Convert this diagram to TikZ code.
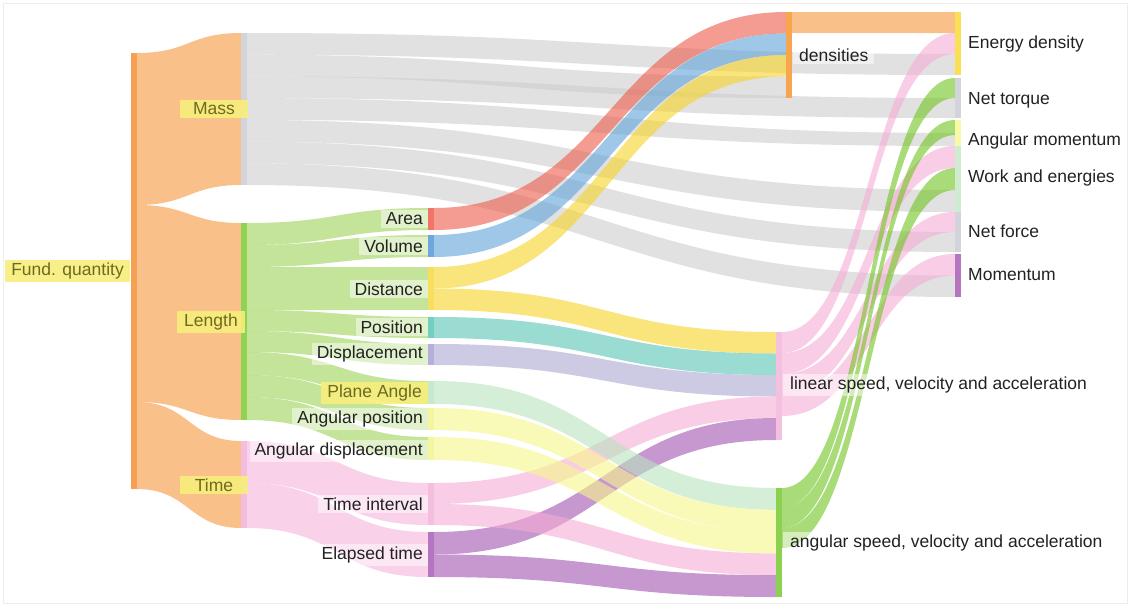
\documentclass[tikz,border=0pt]{standalone}
\usepackage{fontspec}
\setmainfont{Liberation Sans}
\usetikzlibrary{calc}
\pgfdeclarelayer{back}
\pgfdeclarelayer{links}
\pgfsetlayers{back,links,main}
% bar colours
\definecolor{cfund}{HTML}{F5A052}
\definecolor{cmass}{HTML}{D3D3DB}
\definecolor{clen}{HTML}{8ED453}
\definecolor{ctime}{HTML}{F4BCDF}
\definecolor{carea}{HTML}{F07468}
\definecolor{cvol}{HTML}{6DA7DB}
\definecolor{cdist}{HTML}{F8DE5E}
\definecolor{cpos}{HTML}{72D0C2}
\definecolor{cdisp}{HTML}{B5AFDB}
\definecolor{cplane}{HTML}{C7E9CB}
\definecolor{cang}{HTML}{F5F5A0}
\definecolor{ctint}{HTML}{F4BEDF}
\definecolor{celap}{HTML}{B476C0}
\definecolor{cdens}{HTML}{F7A64E}
\definecolor{clin}{HTML}{F5C0E0}
\definecolor{cangs}{HTML}{8BD14F}
\definecolor{ced}{HTML}{F9E056}
\definecolor{cnt}{HTML}{D3D3DB}
\definecolor{cam}{HTML}{F8F8A6}
\definecolor{cwork}{HTML}{CFEBD0}
\definecolor{cnf}{HTML}{D3D3DB}
\definecolor{cmom}{HTML}{B476C0}
% link colours (drawn at 0.6 opacity)
\definecolor{lfund}{HTML}{F7963C}
\definecolor{lmass}{HTML}{CDCDCD}
\definecolor{llen}{HTML}{9ED258}
\definecolor{ltime}{HTML}{F5B4DC}
\definecolor{larea}{HTML}{EE5A4A}
\definecolor{lvol}{HTML}{5FA2D8}
\definecolor{ldist}{HTML}{F7D526}
\definecolor{lpos}{HTML}{58C5B4}
\definecolor{ldisp}{HTML}{ACA7D2}
\definecolor{lplane}{HTML}{B9E4BE}
\definecolor{lang}{HTML}{F7F78A}
\definecolor{ltint}{HTML}{F5ACD5}
\definecolor{lelap}{HTML}{A353B1}
\definecolor{ldens}{HTML}{F7963C}
\definecolor{llin}{HTML}{F5ACD5}
\definecolor{lgreen}{HTML}{71C51E}
% text colours
\definecolor{txt}{HTML}{222222}
\definecolor{hly}{HTML}{F8EE7C}
\definecolor{hlt}{HTML}{6B6B22}

% band: #1 source node, #2 offset at source, #3 width at source,
%       #4 target node, #5 offset at target, #6 width at target, #7 colour
\newcommand\band[7]{%
  \fill[#7, fill opacity=0.6] let \p1=(#1.north east), \p2=(#4.north west) in
    (\x1,\y1-#2pt) .. controls ({(\x1+\x2)/2},\y1-#2pt) and ({(\x1+\x2)/2},\y2-#5pt) .. (\x2,\y2-#5pt)
    -- (\x2,\y2-#5pt-#6pt) .. controls ({(\x1+\x2)/2},\y2-#5pt-#6pt) and ({(\x1+\x2)/2},\y1-#2pt-#3pt) .. (\x1,\y1-#2pt-#3pt)
    -- cycle;}

\begin{document}
\begin{tikzpicture}[x=1pt,y=-1pt,
  bar/.style={rectangle,inner sep=0pt,outer sep=0pt,minimum width=6pt,draw=none},
  lab/.style={font=\fontsize{17.5}{20}\selectfont, text=txt, inner ysep=3pt, inner xsep=5pt},
  hl/.style={lab, fill=hly, fill opacity=0.9, text opacity=1, text=hlt},
  soft/.style={lab, fill=white, fill opacity=0.5, text opacity=1}]
\path[use as bounding box] (0,0) rectangle (1130,606);
\begin{pgfonlayer}{back}
  \fill[white] (0,0) rectangle (1130,606);
  \draw[black!7] (3,3) rectangle (1127,603);
\end{pgfonlayer}

% ---------- nodes (bars) ----------
\node[bar,fill=cfund,minimum height=436pt] (fund) at (134,271) {};
\node[bar,fill=cmass,minimum height=152pt] (mass) at (244,109) {};
\node[bar,fill=clen,minimum height=197pt] (len) at (244,321.5) {};
\node[bar,fill=ctime,minimum height=87pt] (time) at (244,484.5) {};
\node[bar,fill=carea,minimum height=22pt] (area) at (431,219) {};
\node[bar,fill=cvol,minimum height=22pt] (vol) at (431,246) {};
\node[bar,fill=cdist,minimum height=43pt] (dist) at (431,288.5) {};
\node[bar,fill=cpos,minimum height=21pt] (pos) at (431,327.5) {};
\node[bar,fill=cdisp,minimum height=21pt] (disp) at (431,354.5) {};
\node[bar,fill=cplane,minimum height=23pt] (plane) at (431,392.5) {};
\node[bar,fill=cang,minimum height=22pt] (apos) at (431,419) {};
\node[bar,fill=cang,minimum height=23pt] (adisp) at (431,448.5) {};
\node[bar,fill=ctint,minimum height=42pt] (tint) at (431,504) {};
\node[bar,fill=celap,minimum height=45pt] (elap) at (431,554.5) {};
\node[bar,fill=cdens,minimum height=86pt] (dens) at (789,55) {};
\node[bar,fill=clin,minimum height=108pt] (lin) at (779,386) {};
\node[bar,fill=cangs,minimum height=109pt] (angs) at (779,542.5) {};
\node[bar,fill=ced,minimum height=63pt] (ed) at (958,43.5) {};
\node[bar,fill=cnt,minimum height=40pt] (nt) at (958,98) {};
\node[bar,fill=cam,minimum height=26pt] (am) at (958,133) {};
\node[bar,fill=cwork,minimum height=66pt] (work) at (958,179) {};
\node[bar,fill=cnf,minimum height=40pt] (nf) at (958,232) {};
\node[bar,fill=cmom,minimum height=43pt] (mom) at (958,275.5) {};

% ---------- links ----------
\begin{pgfonlayer}{links}
  \band{fund}{0}{152}{mass}{0}{152}{lfund}
  \band{fund}{152}{197}{len}{0}{197}{lfund}
  \band{fund}{349}{87}{time}{0}{87}{lfund}
  % mass
  \band{mass}{0}{21.7}{ed}{42}{21}{lmass}
  \band{mass}{21.7}{21.7}{dens}{64.5}{21.5}{lmass}
  \band{mass}{43.4}{21.7}{nt}{20}{20}{lmass}
  \band{mass}{65.1}{21.7}{am}{13}{13}{lmass}
  \band{mass}{86.9}{21.7}{work}{44}{22}{lmass}
  \band{mass}{108.6}{21.7}{nf}{20}{20}{lmass}
  \band{mass}{130.3}{21.7}{mom}{21.5}{21.5}{lmass}
  % length
  \band{len}{0}{22}{area}{0}{22}{llen}
  \band{len}{22}{22}{vol}{0}{22}{llen}
  \band{len}{44}{43}{dist}{0}{43}{llen}
  \band{len}{87}{21}{pos}{0}{21}{llen}
  \band{len}{108}{21}{disp}{0}{21}{llen}
  \band{len}{129}{23}{plane}{0}{23}{llen}
  \band{len}{152}{22}{apos}{0}{22}{llen}
  \band{len}{174}{23}{adisp}{0}{23}{llen}
  % time
  \band{time}{0}{42}{tint}{0}{42}{ltime}
  \band{time}{42}{45}{elap}{0}{45}{ltime}
  % third column
  \band{area}{0}{22}{dens}{0}{21.5}{larea}
  \band{vol}{0}{22}{dens}{21.5}{21.5}{lvol}
  \band{dist}{0}{21.5}{dens}{43}{21.5}{ldist}
  \band{dist}{21.5}{21.5}{lin}{0}{21.5}{ldist}
  \band{pos}{0}{21}{lin}{21.5}{21.5}{lpos}
  \band{disp}{0}{21}{lin}{43}{21.5}{ldisp}
  \band{tint}{0}{21}{lin}{64.5}{21.5}{ltint}
  \band{elap}{0}{22.5}{lin}{86}{22}{lelap}
  \band{plane}{0}{23}{angs}{0}{21.8}{lplane}
  \band{apos}{0}{22}{angs}{21.8}{21.8}{lang}
  \band{adisp}{0}{23}{angs}{43.6}{21.8}{lang}
  \band{tint}{21}{21}{angs}{65.4}{21.8}{ltint}
  \band{elap}{22.5}{22.5}{angs}{87.2}{21.8}{lelap}
  % fourth column
  \band{dens}{0}{21}{ed}{0}{21}{ldens}
  \band{lin}{0}{21}{ed}{21}{21}{llin}
  \band{lin}{21}{21}{work}{0}{22}{llin}
  \band{lin}{42}{21}{nf}{0}{20}{llin}
  \band{lin}{63}{21}{mom}{0}{21.5}{llin}
  \band{angs}{0}{20}{nt}{0}{20}{lgreen}
  \band{angs}{20}{20}{am}{0}{15}{lgreen}
  \band{angs}{40}{20}{work}{22}{22}{lgreen}
\end{pgfonlayer}

% ---------- labels ----------
\node[hl, anchor=east, inner xsep=6pt] (tfund) at (130,271) {Fund. quantity};
\node[hl, minimum width=68pt] (tmass) at (214,109) {Mass};
\node[hl, minimum width=68pt] (tlen) at (211,322) {Length};
\node[hl, minimum width=68pt] (ttime) at (214,485) {Time};

\node[soft, anchor=east] (tarea) at (428,219) {Area};
\node[soft, anchor=east] (tvol) at (428,246) {Volume};
\node[soft, anchor=east] (tdist) at (428,289) {Distance};
\node[soft, anchor=east] (tpos) at (428,327) {Position};
\node[soft, anchor=east] (tdisp) at (428,354) {Displacement};
\node[hl, anchor=east, inner xsep=6pt] (tplane) at (428,393) {Plane Angle};
\node[soft, anchor=east] (tapos) at (428,419) {Angular position};
\node[soft, anchor=east] (tadisp) at (428,451) {Angular displacement};
\node[soft, anchor=east] (ttint) at (428,504) {Time interval};
\node[soft, anchor=east] (telap) at (428,555) {Elapsed time};

\node[soft, anchor=west, inner xsep=6pt] (tdens) at (793,55) {densities};
\node[soft, anchor=west, inner xsep=7pt] (tlin) at (783,385) {linear speed, velocity and acceleration};
\node[soft, anchor=west, inner xsep=7pt] (tangs) at (783,543) {angular speed, velocity and acceleration};

\node[lab, anchor=west] (ted) at (963,44) {Energy density};
\node[lab, anchor=west] (tnt) at (963,100) {Net torque};
\node[lab, anchor=west] (tam) at (963,141) {Angular momentum};
\node[lab, anchor=west] (twork) at (963,178) {Work and energies};
\node[lab, anchor=west] (tnf) at (963,231) {Net force};
\node[lab, anchor=west] (tmom) at (963,275) {Momentum};
\end{tikzpicture}
\end{document}
